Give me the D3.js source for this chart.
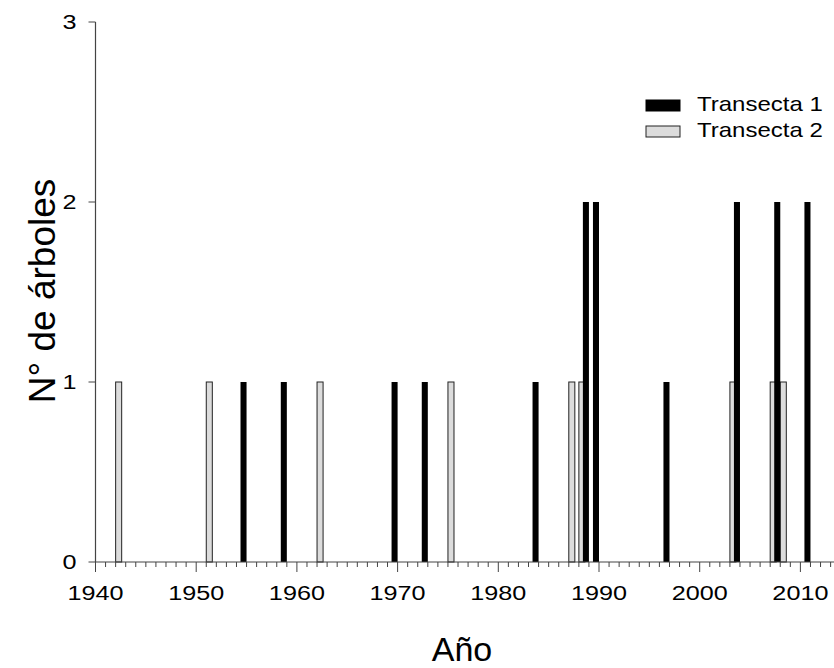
<!DOCTYPE html>
<html>
<head>
<meta charset="utf-8">
<script src="https://cdn.jsdelivr.net/npm/d3@7"></script>
<style>
  html, body { margin: 0; padding: 0; background: #fff; }
  svg { display: block; }
  text { font-family: "Liberation Sans", Arial, sans-serif; fill: #000; }
</style>
</head>
<body>
<svg id="chart" width="834" height="668"></svg>
<script>
// Data: year -> number of trees
const years1 = [1955, 1959, 1970, 1973, 1984, 1989, 1990, 1997, 2004, 2008, 2011];
const counts1 = [1, 1, 1, 1, 1, 2, 2, 1, 2, 2, 2];
const years2 = [1942, 1951, 1962, 1975, 1987, 1988, 2003, 2007, 2008];
const counts2 = [1, 1, 1, 1, 1, 1, 1, 1, 1];
const seriesNames = ["Transecta 1", "Transecta 2"];
const xTicks = [1940, 1950, 1960, 1970, 1980, 1990, 2000, 2010];
const yTicks = [0, 1, 2, 3];
const xTitle = "Año";
const yTitle = "N° de árboles";

const svg = d3.select("#chart");
const x = d3.scaleLinear().domain([1940, 2014]).range([95.5, 95.5 + 74 * 10.07]);
const y = d3.scaleLinear().domain([0, 3]).range([562, 22]);
const barW = 0.6; // in years
const axisColor = "#444";
const sx = 1.2; // horizontal stretch of text seen in the reference

const d2 = years2.map((yr, i) => ({ yr, v: counts2[i] }));
const d1 = years1.map((yr, i) => ({ yr, v: counts1[i] }));

svg.append("g").selectAll("rect").data(d2).join("rect")
  .attr("x", d => x(d.yr))
  .attr("y", d => y(d.v))
  .attr("width", d => x(d.yr + barW) - x(d.yr))
  .attr("height", d => y(0) - y(d.v))
  .attr("fill", "#dcdcdc")
  .attr("stroke", "#222")
  .attr("stroke-width", 1);

svg.append("g").selectAll("rect").data(d1).join("rect")
  .attr("x", d => x(d.yr - barW))
  .attr("y", d => y(d.v))
  .attr("width", d => x(d.yr) - x(d.yr - barW))
  .attr("height", d => y(0) - y(d.v))
  .attr("fill", "#000");

// X axis with minor ticks (every year)
const xAxisG = svg.append("g").attr("transform", `translate(0,${y(0)})`);
xAxisG.append("line").attr("x1", x(1940)).attr("x2", 834).attr("y1", 0).attr("y2", 0)
  .attr("stroke", axisColor).attr("stroke-width", 1.2);
const minor = d3.range(1941, 2014).filter(v => v % 10 !== 0);
xAxisG.selectAll("line.minor").data(minor).join("line").attr("class", "minor")
  .attr("x1", d => x(d)).attr("x2", d => x(d)).attr("y1", 0).attr("y2", 5)
  .attr("stroke", axisColor).attr("stroke-width", 1);
xAxisG.selectAll("line.major").data(xTicks).join("line").attr("class", "major")
  .attr("x1", d => x(d)).attr("x2", d => x(d)).attr("y1", 0).attr("y2", 10)
  .attr("stroke", axisColor).attr("stroke-width", 1);
xAxisG.selectAll("text").data(xTicks).join("text")
  .attr("transform", d => `translate(${x(d)},38) scale(${sx},1)`)
  .attr("text-anchor", "middle").attr("font-size", 21)
  .text(d => d);

// Y axis
const yAxisG = svg.append("g");
yAxisG.append("line").attr("x1", x(1940)).attr("x2", x(1940)).attr("y1", y(3)).attr("y2", y(0))
  .attr("stroke", axisColor).attr("stroke-width", 1.2);
yAxisG.selectAll("line.tick").data(yTicks).join("line").attr("class", "tick")
  .attr("x1", x(1940) - 7).attr("x2", x(1940)).attr("y1", d => y(d)).attr("y2", d => y(d))
  .attr("stroke", axisColor).attr("stroke-width", 1);
yAxisG.selectAll("text").data(yTicks).join("text")
  .attr("transform", d => `translate(${x(1940) - 19},${y(d) + 7}) scale(${sx},1)`)
  .attr("text-anchor", "end").attr("font-size", 21)
  .text(d => d);

// Titles
svg.append("text").attr("x", 462).attr("y", 661).attr("text-anchor", "middle")
  .attr("font-size", 34).text(xTitle);
svg.append("text").attr("transform", "translate(55,291) rotate(-90)")
  .attr("text-anchor", "middle").attr("font-size", 37).text(yTitle);

// Legend
const legend = svg.append("g");
const lg = [
  { name: seriesNames[0], fill: "#000", stroke: "#000", y0: 100 },
  { name: seriesNames[1], fill: "#dcdcdc", stroke: "#222", y0: 126 }
];
lg.forEach(d => {
  legend.append("rect").attr("x", 646).attr("y", d.y0).attr("width", 34).attr("height", 11)
    .attr("fill", d.fill).attr("stroke", d.stroke).attr("stroke-width", 1);
  legend.append("text").attr("transform", `translate(697,${d.y0 + 11}) scale(${sx},1)`)
    .attr("font-size", 20).text(d.name);
});
</script>
</body>
</html>
